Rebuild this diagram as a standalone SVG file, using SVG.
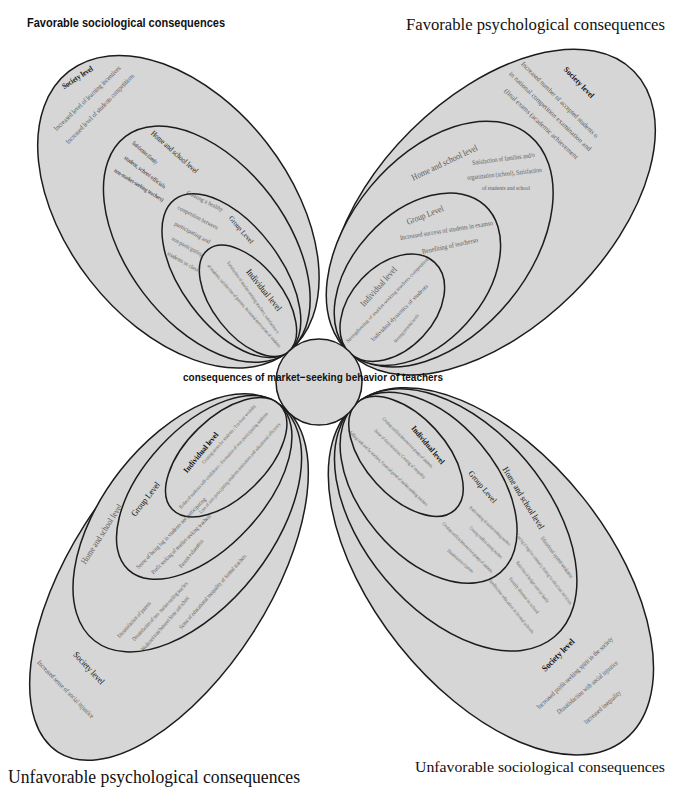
<svg xmlns="http://www.w3.org/2000/svg" width="681" height="790" viewBox="0 0 681 790">
<style>
.p{fill:#d6d6d6;stroke:#1c1c1c;stroke-width:1.5}
.t{font-family:"Liberation Serif",serif;text-anchor:middle;dominant-baseline:central;fill:#5a5a5a}
.l{fill:#111}
.b{font-weight:bold}
.s5{font-size:5px}.s6{font-size:6px}.s7{font-size:7px}.s8{font-size:8px}.s9{font-size:9px}
.title{font-family:"Liberation Serif",serif;fill:#111}
</style>
<rect width="681" height="790" fill="#fff"/>
<g id="connectors"/>

<g id="petal-favorable-sociological">
<ellipse class="p" cx="178.4" cy="211.7" rx="178" ry="112" transform="rotate(52 178.4 211.7)"/>
<ellipse class="p" cx="206.8" cy="244.2" rx="135" ry="80" transform="rotate(53 206.8 244.2)"/>
<ellipse class="p" cx="231.4" cy="275.7" rx="95" ry="50" transform="rotate(53.4 231.4 275.7)"/>
<ellipse class="p" cx="248" cy="300.8" rx="65" ry="35" transform="rotate(52 248 300.8)"/>
<text class="t l b s8" transform="translate(77.5 77.5) rotate(-33.2)" textLength="35" lengthAdjust="spacingAndGlyphs">Society level</text>
<text class="t s7" transform="translate(87.5 98.5) rotate(-44.1)" textLength="90" lengthAdjust="spacingAndGlyphs">Increased level of learning incentives</text>
<text class="t s7" transform="translate(100 109) rotate(-45.9)" textLength="95" lengthAdjust="spacingAndGlyphs">Increased level of students competitions</text>
<text class="t l s8" transform="translate(174.5 152) rotate(41.6)" textLength="60" lengthAdjust="spacingAndGlyphs">Home and school level</text>
<text class="t l s6" transform="translate(145 152.5) rotate(41.2)" textLength="32" lengthAdjust="spacingAndGlyphs">Satisfaction (family</text>
<text class="t l s6" transform="translate(145 172) rotate(36.9)" textLength="50" lengthAdjust="spacingAndGlyphs">student, school officials</text>
<text class="t l s6" transform="translate(139 185) rotate(32)" textLength="57" lengthAdjust="spacingAndGlyphs">non-market-seeking teachers)</text>
<text class="t l s7" transform="translate(241 230) rotate(49.8)" textLength="34" lengthAdjust="spacingAndGlyphs">Group Level</text>
<text class="t s6" transform="translate(205 201) rotate(26.6)" textLength="40" lengthAdjust="spacingAndGlyphs">Creating a healthy</text>
<text class="t s6" transform="translate(198 217.5) rotate(27.7)" textLength="45" lengthAdjust="spacingAndGlyphs">competition between</text>
<text class="t s6" transform="translate(192.5 232.5) rotate(28.5)" textLength="40" lengthAdjust="spacingAndGlyphs">participating and</text>
<text class="t s6" transform="translate(187.5 246.5) rotate(28.7)" textLength="35" lengthAdjust="spacingAndGlyphs">non-participating</text>
<text class="t s6" transform="translate(183 261.5) rotate(29.5)" textLength="35" lengthAdjust="spacingAndGlyphs">students in class</text>
<text class="t l s9" transform="translate(264 290) rotate(51.3)" textLength="51" lengthAdjust="spacingAndGlyphs">Individual level</text>
<text class="t s5" transform="translate(253 297.5) rotate(54.8)" textLength="87" lengthAdjust="spacingAndGlyphs">Satisfaction of market-seeking teachers; satisfaction o</text>
<text class="t s5" transform="translate(244 306) rotate(48.7)" textLength="109" lengthAdjust="spacingAndGlyphs">of students, satisfaction of parents, increased motivation of students</text>
</g>

<g id="petal-favorable-psychological">
<ellipse class="p" cx="491.9" cy="212.1" rx="200" ry="115" transform="rotate(-44.8 491.9 212.1)"/>
<ellipse class="p" cx="439.7" cy="244.1" rx="141" ry="90" transform="rotate(-50.5 439.7 244.1)"/>
<ellipse class="p" cx="417.4" cy="279.2" rx="100" ry="66" transform="rotate(-47.6 417.4 279.2)"/>
<ellipse class="p" cx="392.3" cy="307.7" rx="62" ry="42" transform="rotate(-47 392.3 307.7)"/>
<text class="t l b s8" transform="translate(579 82.5) rotate(46)" textLength="40" lengthAdjust="spacingAndGlyphs">Society level</text>
<text class="t s7" transform="translate(559.5 100) rotate(44.6)" textLength="105" lengthAdjust="spacingAndGlyphs">Increased number of accepted students o</text>
<text class="t s7" transform="translate(550 111.5) rotate(43.9)" textLength="111" lengthAdjust="spacingAndGlyphs">in national competition examination and</text>
<text class="t s7" transform="translate(541 124) rotate(43.4)" textLength="99" lengthAdjust="spacingAndGlyphs">(final exams (academic achievement</text>
<text class="t s9" transform="translate(444.5 162.5) rotate(-25.5)" textLength="72" lengthAdjust="spacingAndGlyphs">Home and school level</text>
<text class="t s7" transform="translate(503.5 159) rotate(-7.2)" textLength="63" lengthAdjust="spacingAndGlyphs">Satisfaction of families and/o</text>
<text class="t s7" transform="translate(504.5 174) rotate(-6.1)" textLength="75" lengthAdjust="spacingAndGlyphs">organization (school), Satisfaction</text>
<text class="t s7" transform="translate(506 188)" textLength="48" lengthAdjust="spacingAndGlyphs">of students and school</text>
<text class="t s9" transform="translate(425 215) rotate(-21.3)" textLength="39" lengthAdjust="spacingAndGlyphs">Group Level</text>
<text class="t s7" transform="translate(446.5 230.5) rotate(-9.2)" textLength="94" lengthAdjust="spacingAndGlyphs">Increased success of students in examso</text>
<text class="t s7" transform="translate(450 246) rotate(-12.1)" textLength="57" lengthAdjust="spacingAndGlyphs">Benefiting of teacherso</text>
<text class="t s9" transform="translate(378.5 286.5) rotate(-48.3)" textLength="50" lengthAdjust="spacingAndGlyphs">Individual level</text>
<text class="t s5" transform="translate(387.5 300) rotate(-46)" textLength="117" lengthAdjust="spacingAndGlyphs">Strengthening of market-seeking teachers competition</text>
<text class="t s6" transform="translate(399.5 312.5) rotate(-45)" textLength="78" lengthAdjust="spacingAndGlyphs">Individual dynamics of students</text>
<text class="t s5" transform="translate(406.5 328.5) rotate(-49.6)" textLength="36" lengthAdjust="spacingAndGlyphs">Meeting personal needs</text>
</g>

<g id="petal-unfavorable-psychological">
<ellipse class="p" cx="169" cy="578.5" rx="206" ry="100" transform="rotate(122.6 169 578.5)"/>
<ellipse class="p" cx="187.3" cy="522.9" rx="150" ry="85" transform="rotate(128.2 187.3 522.9)"/>
<ellipse class="p" cx="204.2" cy="487.4" rx="112" ry="60" transform="rotate(132.6 204.2 487.4)"/>
<ellipse class="p" cx="226.2" cy="457.3" rx="75" ry="40" transform="rotate(135.8 226.2 457.3)"/>
<text class="t l b s8" transform="translate(201 452.5) rotate(-50.6)" textLength="50" lengthAdjust="spacingAndGlyphs">Individual level</text>
<text class="t s5" transform="translate(229 434) rotate(-48.1)" textLength="78" lengthAdjust="spacingAndGlyphs">Creating stress for students ; Ten-hour weekday</text>
<text class="t s5" transform="translate(223.5 460.5) rotate(-47.5)" textLength="129" lengthAdjust="spacingAndGlyphs">Reduced students self-confidence ; Formation of non-participating students</text>
<text class="t s5" transform="translate(240 468) rotate(-48.4)" textLength="120" lengthAdjust="spacingAndGlyphs">Loss of non-participating students motivation and educational efficiency</text>
<text class="t l s9" transform="translate(145.5 499) rotate(-52)" textLength="41" lengthAdjust="spacingAndGlyphs">Group Level</text>
<text class="t s6" transform="translate(171 533) rotate(-45.8)" textLength="97" lengthAdjust="spacingAndGlyphs">Sense of being lag in students not participating</text>
<text class="t s6" transform="translate(181 544) rotate(-45)" textLength="82" lengthAdjust="spacingAndGlyphs">Profit seeking of market-seeking teachers</text>
<text class="t s6" transform="translate(191 553.5) rotate(-50.8)" textLength="35" lengthAdjust="spacingAndGlyphs">Parents exhaustion</text>
<text class="t s9" transform="translate(101.5 534) rotate(-57.5)" textLength="69" lengthAdjust="spacingAndGlyphs">Home and school level</text>
<text class="t s6" transform="translate(134 619.5) rotate(-47.6)" textLength="47" lengthAdjust="spacingAndGlyphs">Dissatisfaction of parents</text>
<text class="t s6" transform="translate(160 611) rotate(-47)" textLength="79" lengthAdjust="spacingAndGlyphs">Dissatisfaction of non- market-seeking teachers</text>
<text class="t s6" transform="translate(165 623.5) rotate(-49)" textLength="70" lengthAdjust="spacingAndGlyphs">Weakened trust between home and school</text>
<text class="t s6" transform="translate(212.5 591.5) rotate(-48.3)" textLength="98" lengthAdjust="spacingAndGlyphs">Sense of educational inequality of formal teachers</text>
<text class="t l s9" transform="translate(89 668) rotate(47)" textLength="41" lengthAdjust="spacingAndGlyphs">Society level</text>
<text class="t s7" transform="translate(65.5 689.5) rotate(45.6)" textLength="78" lengthAdjust="spacingAndGlyphs">Increased sense of social injustice</text>
</g>

<g id="petal-unfavorable-sociological">
<ellipse class="p" cx="490.9" cy="571.3" rx="215" ry="118" transform="rotate(51.5 490.9 571.3)"/>
<ellipse class="p" cx="455.7" cy="519.9" rx="153" ry="92" transform="rotate(49.8 455.7 519.9)"/>
<ellipse class="p" cx="428.6" cy="487.8" rx="111" ry="68" transform="rotate(49.8 428.6 487.8)"/>
<ellipse class="p" cx="406" cy="456.4" rx="72.5" ry="40" transform="rotate(47.5 406 456.4)"/>
<text class="t l b s8" transform="translate(428 445) rotate(50.2)" textLength="47" lengthAdjust="spacingAndGlyphs">Individual level</text>
<text class="t s5" transform="translate(407.5 442.5) rotate(45)" textLength="69" lengthAdjust="spacingAndGlyphs">Creating conflicts between two groups of students</text>
<text class="t s5" transform="translate(400 454) rotate(43.8)" textLength="69" lengthAdjust="spacingAndGlyphs">Sense of discrimination; Creating of inequality</text>
<text class="t s5" transform="translate(388.5 468.5) rotate(43.5)" textLength="106" lengthAdjust="spacingAndGlyphs">Selling rank and for teachers; Financial greed of market-seeking teachers</text>
<text class="t l s8" transform="translate(482.5 487) rotate(50.2)" textLength="39" lengthAdjust="spacingAndGlyphs">Group Level</text>
<text class="t s5" transform="translate(490 526) rotate(43.5)" textLength="55" lengthAdjust="spacingAndGlyphs">Profit-seeking of market-seeking teachers</text>
<text class="t s5" transform="translate(486 542.5) rotate(44.1)" textLength="44" lengthAdjust="spacingAndGlyphs">Creating conflicts among teachers</text>
<text class="t s5" transform="translate(467.5 547.5) rotate(45)" textLength="69" lengthAdjust="spacingAndGlyphs">Creating conflicts between two groups of students</text>
<text class="t s5" transform="translate(460.5 561) rotate(41.3)" textLength="33" lengthAdjust="spacingAndGlyphs">Dissatisfaction of parents</text>
<text class="t l s9" transform="translate(523.5 498) rotate(58.3)" textLength="71" lengthAdjust="spacingAndGlyphs">Home and school level</text>
<text class="t s6" transform="translate(557 557) rotate(53.1)" textLength="50" lengthAdjust="spacingAndGlyphs">Educational system weakness</text>
<text class="t s5" transform="translate(544 569) rotate(52.1)" textLength="88" lengthAdjust="spacingAndGlyphs">Creating of negative community thinking for educational institutions</text>
<text class="t s5" transform="translate(532.5 582) rotate(52.2)" textLength="51" lengthAdjust="spacingAndGlyphs">Reduction of budget costs for family</text>
<text class="t s5" transform="translate(524 595.5) rotate(51.3)" textLength="45" lengthAdjust="spacingAndGlyphs">Family distrust in school</text>
<text class="t s5" transform="translate(511.5 606.5) rotate(51)" textLength="68" lengthAdjust="spacingAndGlyphs">Ineffective education in formal schools</text>
<text class="t l b s9" transform="translate(558 655) rotate(-45)" textLength="42" lengthAdjust="spacingAndGlyphs">Society level</text>
<text class="t s7" transform="translate(575 673) rotate(-43.4)" textLength="102" lengthAdjust="spacingAndGlyphs">Increased profit-seeking spirit in the society</text>
<text class="t s7" transform="translate(587.5 687.5) rotate(-40.8)" textLength="78" lengthAdjust="spacingAndGlyphs">Dissatisfaction with social injustice</text>
<text class="t s7" transform="translate(602.5 707.5) rotate(-41.5)" textLength="47" lengthAdjust="spacingAndGlyphs">Increased inequality</text>
</g>

<g id="center">
<circle class="p" cx="319" cy="382" r="43"/>
<text x="313" y="377" font-family="Liberation Sans, Arial, sans-serif" font-weight="bold" font-size="11.5" fill="#111" text-anchor="middle" dominant-baseline="central" textLength="260" lengthAdjust="spacingAndGlyphs">consequences of market−seeking behavior of teachers</text>
</g>

<g id="titles">
<text x="27" y="27" font-family="Liberation Sans, Arial, sans-serif" font-weight="bold" font-size="12" fill="#111" textLength="198" lengthAdjust="spacingAndGlyphs">Favorable sociological consequences</text>
<text class="title" x="406" y="30" font-size="16.5" textLength="259" lengthAdjust="spacingAndGlyphs">Favorable psychological consequences</text>
<text class="title" x="8" y="783" font-size="18" textLength="292" lengthAdjust="spacingAndGlyphs">Unfavorable psychological consequences</text>
<text class="title" x="415" y="772" font-size="15.5" textLength="250" lengthAdjust="spacingAndGlyphs">Unfavorable sociological consequences</text>
</g>
</svg>
